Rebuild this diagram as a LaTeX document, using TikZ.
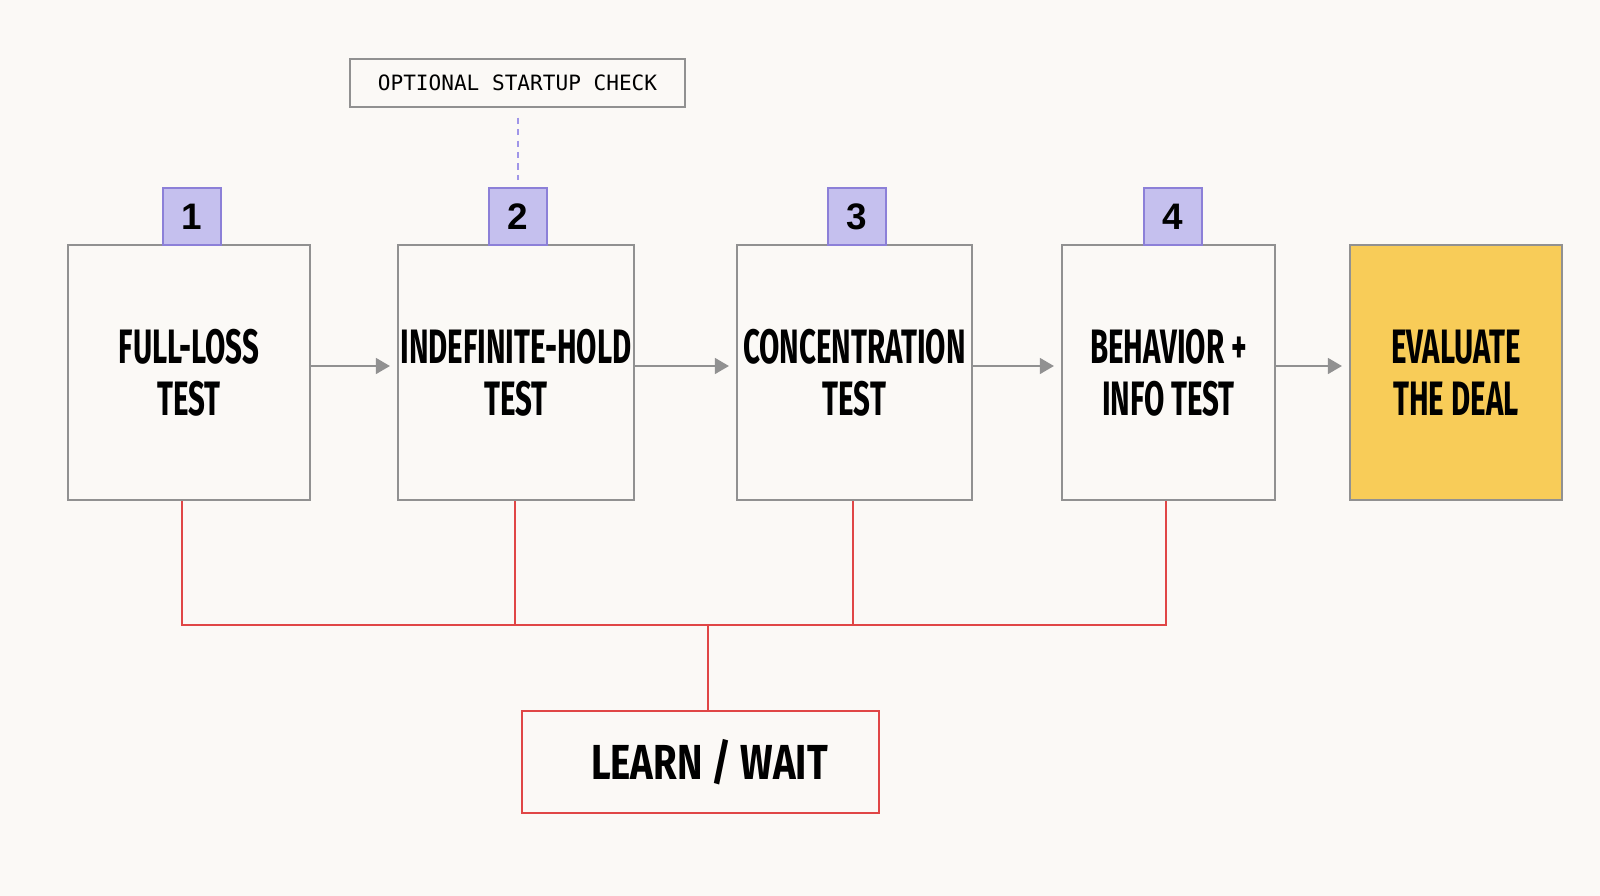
\documentclass[tikz,border=0pt]{standalone}
\usepackage{fontspec}
\usepackage{tikz}
\usepackage{xcolor}
\usetikzlibrary{arrows.meta,positioning,calc}
\setmainfont{Fira Sans}
\newfontfamily\condfont[FakeStretch=0.61]{Fira Sans}
\newfontfamily\widefont[FakeStretch=0.78]{Fira Sans}
\newfontfamily\numfont{Liberation Sans}
\newfontfamily\codefont{DejaVu Sans Mono}
\definecolor{paper}{RGB}{251,249,246}
\definecolor{boxgray}{RGB}{145,145,145}
\definecolor{badgefill}{RGB}{197,192,238}
\definecolor{badgeline}{RGB}{140,128,216}
\definecolor{dashlilac}{RGB}{160,150,232}
\definecolor{waitred}{RGB}{224,70,70}
\definecolor{dealyellow}{RGB}{248,204,88}
\tikzset{
  testbox/.style={draw=boxgray,line width=1.2pt,fill=paper,minimum height=5.1cm,inner xsep=1pt,align=center,font=\condfont\bfseries\fontsize{27.5}{29.5}\selectfont},
  badge/.style={draw=badgeline,line width=1.2pt,fill=badgefill,minimum width=1.16cm,minimum height=1.14cm,anchor=south,font=\numfont\bfseries\fontsize{21}{21}\selectfont},
  flow/.style={draw=boxgray,line width=1.2pt,-{Triangle[length=8pt,width=9pt]},shorten >=4pt},
  waitline/.style={draw=waitred,line width=1.3pt}
}
\begin{document}
\begin{tikzpicture}[x=0.02cm,y=-0.02cm]
\fill[paper] (0,0) rectangle (1600,896);
\node[testbox,minimum width=4.84cm] (loss) at (189,372.5) {FULL-LOSS\\TEST};
\node[testbox,minimum width=4.72cm] (hold) at (516,372.5) {INDEFINITE-HOLD\\TEST};
\node[testbox,minimum width=4.70cm] (conc) at (854.5,372.5) {CONCENTRATION\\TEST};
\node[testbox,minimum width=4.26cm] (info) at (1168.5,372.5) {BEHAVIOR +\\INFO TEST};
\node[testbox,minimum width=4.24cm,fill=dealyellow] (deal) at (1456,372.5) {EVALUATE\\THE DEAL};
\node[badge] (n1) at (192,246) {1};
\node[badge] (n2) at (518,246) {2};
\node[badge] (n3) at (857,246) {3};
\node[badge] (n4) at (1173,246) {4};
\node[draw=boxgray,line width=1.2pt,fill=paper,minimum width=6.7cm,minimum height=0.96cm,font=\codefont\fontsize{12}{12}\selectfont] (check) at (517.5,83) {OPTIONAL STARTUP CHECK};
\draw[dashlilac,line width=1.2pt,dash pattern=on 3.5pt off 3pt,shorten <=5.5pt,shorten >=4pt] (check.south -| n2) -- (n2.north);
\foreach \a/\b in {loss/hold,hold/conc,conc/info,info/deal}{\draw[flow] ([yshift=0.13cm]\a.east) -- ([yshift=0.13cm]\b.west);}
\node[draw=waitred,line width=1.3pt,fill=paper,minimum width=7.14cm,minimum height=2.04cm,font=\widefont\bfseries\fontsize{28}{28}\selectfont] (wait) at (700.5,762) {\hspace*{0.36cm}LEARN / WAIT};
\coordinate (j1) at (182,625);
\coordinate (j2) at (515,625);
\coordinate (j3) at (853,625);
\coordinate (j4) at (1166,625);
\coordinate (jm) at (708,625);
\draw[waitline] (loss.south -| j1) -- (j1) -- (j4) -- (info.south -| j4);
\draw[waitline] (hold.south -| j2) -- (j2);
\draw[waitline] (conc.south -| j3) -- (j3);
\draw[waitline] (jm) -- (jm |- wait.north);
\end{tikzpicture}
\end{document}
